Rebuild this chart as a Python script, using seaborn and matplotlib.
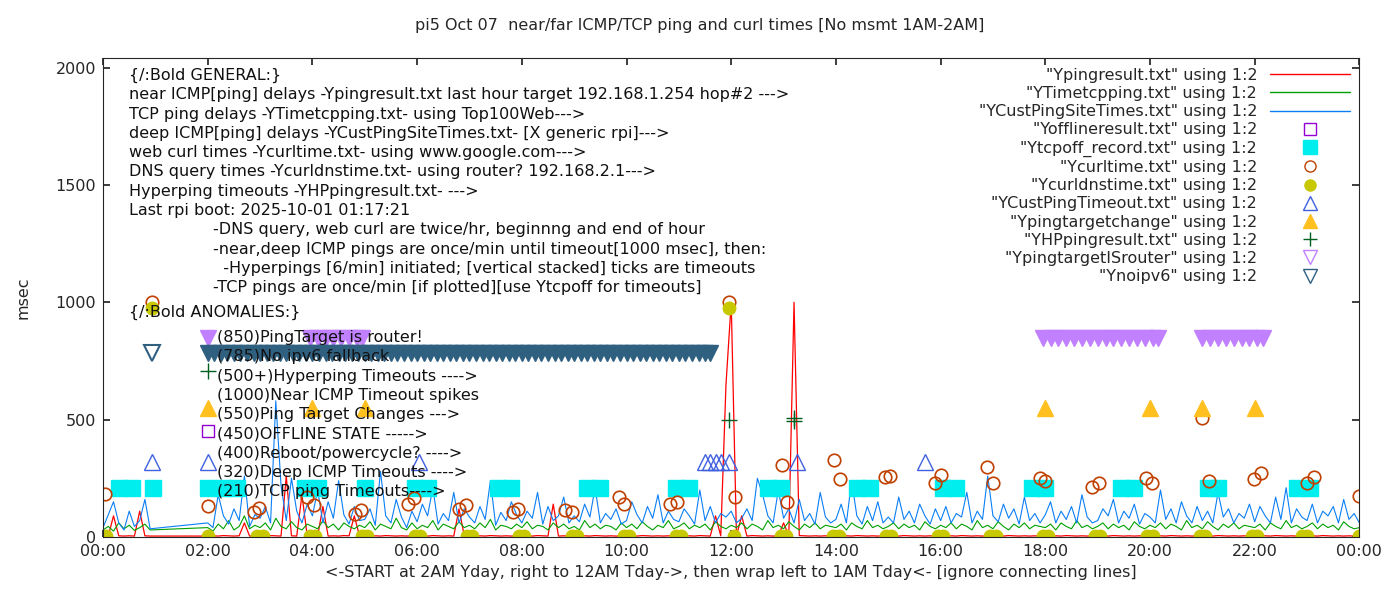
import numpy as np
import pandas as pd
import matplotlib
matplotlib.use("Agg")
import matplotlib.pyplot as plt
import matplotlib.lines as mlines
import seaborn as sns

sns.set_theme(style="ticks")
plt.rcParams["font.family"] = ["DejaVu Sans"]

# ---- time grid (hours since midnight); no data 1AM-2AM ----
HOURS = np.round(np.concatenate([np.arange(0.0, 1.0, 0.1), np.arange(2.0, 24.05, 0.1)]), 2)

# far ICMP (YCustPingSiteTimes) - blue
BLUE = [
    40, 95, 150, 60, 30, 110, 45, 70, 160, 35,
    60, 40, 180, 90, 55, 120, 70, 260, 45, 95,
    80, 130, 60, 580, 220, 70, 250, 110, 60, 140,
    90, 200, 60, 150, 80, 240, 95, 55, 130, 70,
    75, 120, 50, 280, 90, 60, 160, 85, 40, 110,
    65, 140, 90, 210, 55, 100, 70, 190, 60, 120,
    85, 60, 130, 75, 240, 50, 105, 70, 150, 95,
    60, 110, 80, 190, 55, 130, 70, 90, 170, 60,
    90, 65, 140, 85, 210, 60, 100, 75, 120, 55,
    70, 150, 95, 60, 130, 80, 180, 60, 110, 75,
    65, 120, 90, 55, 200, 70, 130, 60, 100, 85,
    110, 60, 80, 120, 70, 250, 180, 90, 60, 200,
    80, 120, 60, 160, 70, 100, 55, 190, 85, 60,
    75, 140, 60, 240, 90, 55, 130, 70, 150, 60,
    85, 60, 170, 75, 110, 60, 140, 90, 55, 120,
    70, 130, 60, 100, 85, 190, 60, 110, 75, 260,
    90, 65, 140, 80, 120, 55, 170, 70, 100, 60,
    95, 150, 60, 110, 75, 130, 60, 180, 85, 60,
    70, 120, 90, 160, 60, 110, 80, 140, 55, 100,
    85, 60, 200, 75, 120, 60, 150, 90, 60, 130,
    70, 110, 60, 190, 85, 120, 60, 100, 80, 140,
    65, 130, 90, 60, 170, 75, 210, 60, 120, 85,
    70, 140, 60, 110, 90, 130, 60, 160, 75, 100,
    60,
]

# deep ICMP (YTimetcpping) - green
GREEN = [
    30, 45, 25, 60, 35, 50, 28, 40, 55, 30,
    40, 25, 55, 35, 70, 30, 45, 90, 35, 50,
    40, 60, 30, 80, 45, 35, 65, 40, 30, 55,
    45, 35, 70, 40, 55, 30, 60, 45, 35, 50,
    40, 65, 30, 55, 45, 35, 80, 40, 30, 60,
    35, 50, 40, 70, 30, 55, 45, 35, 65, 40,
    50, 35, 60, 40, 75, 30, 50, 45, 35, 55,
    40, 65, 35, 50, 45, 30, 60, 40, 55, 35,
    45, 30, 70, 40, 55, 35, 50, 45, 30, 60,
    40, 55, 35, 65, 45, 30, 50, 40, 70, 35,
    45, 60, 35, 50, 40, 55, 30, 65, 45, 35,
    50, 40, 60, 35, 55, 45, 30, 70, 40, 50,
    35, 65, 45, 30, 55, 40, 60, 35, 50, 45,
    40, 55, 30, 60, 45, 35, 70, 40, 50, 35,
    45, 60, 35, 55, 40, 50, 30, 65, 45, 35,
    50, 40, 60, 35, 55, 45, 30, 70, 40, 50,
    35, 65, 45, 30, 55, 40, 60, 35, 50, 45,
    40, 55, 30, 60, 45, 35, 70, 40, 50, 35,
    45, 60, 35, 55, 40, 50, 30, 65, 45, 35,
    50, 40, 60, 35, 55, 45, 30, 70, 40, 50,
    35, 65, 45, 30, 55, 40, 60, 35, 50, 45,
    40, 55, 30, 60, 45, 35, 70, 40, 50, 35,
    45, 60, 35, 55, 40, 50, 30, 65, 45, 35,
    40,
]

# near ICMP (Ypingresult) - red
RED = [
    5, 4, 90, 5, 4, 5, 4, 110, 5, 4,
    4, 5, 4, 6, 5, 4, 5, 60, 4, 5,
    5, 4, 6, 5, 4, 260, 5, 4, 180, 5,
    4, 5, 130, 4, 5, 4, 6, 5, 90, 4,
    5, 4, 5, 4, 6, 5, 4, 5, 4, 5,
    4, 5, 4, 6, 5, 4, 5, 4, 120, 5,
    5, 4, 5, 4, 6, 5, 4, 5, 4, 5,
    4, 5, 4, 6, 5, 4, 140, 4, 5, 4,
    5, 4, 5, 4, 6, 5, 4, 5, 4, 5,
    4, 5, 4, 6, 5, 4, 5, 4, 5, 4,
    5, 4, 5, 4, 6, 5, 4, 90, 5, 650,
    1000, 5, 90, 4, 6, 5, 4, 5, 4, 5,
    60, 5, 1000, 6, 5, 4, 5, 4, 5, 4,
    5, 4, 5, 4, 6, 5, 4, 5, 4, 5,
    4, 5, 4, 6, 5, 4, 5, 4, 5, 4,
    5, 4, 5, 4, 6, 5, 4, 5, 4, 5,
    4, 5, 4, 6, 5, 4, 5, 4, 5, 4,
    5, 4, 5, 4, 6, 5, 4, 5, 4, 5,
    4, 5, 4, 6, 5, 4, 5, 4, 5, 4,
    5, 4, 5, 4, 6, 5, 4, 5, 4, 5,
    4, 5, 4, 6, 5, 4, 5, 4, 5, 4,
    5, 4, 5, 4, 6, 5, 4, 5, 4, 5,
    4, 5, 4, 6, 5, 4, 5, 4, 5, 4,
    4,
]

# TCP ping timeouts (Ytcpoff_record) at ~210
TCPOFF_X = [0.3, 0.55, 0.95, 2.0, 2.3, 2.55, 3.85, 4.1, 5.0, 5.95, 6.2, 7.55, 7.8, 9.25, 9.5,
            10.95, 11.2, 12.7, 12.95, 14.4, 14.65, 16.05, 16.3, 17.75, 18.0, 19.45, 19.7,
            21.1, 21.3, 22.8, 23.05]
TCPOFF_Y = 210

# web curl times (Ycurltime)
CURL_X = [0.03, 0.93, 2.0, 2.88, 2.98, 3.9, 4.03, 4.82, 4.93, 5.83, 5.94, 6.8, 6.93, 7.83, 7.93,
          8.82, 8.95, 9.85, 9.96, 10.84, 10.97, 11.95, 12.07, 12.97, 13.07, 13.97, 14.08,
          14.93, 15.04, 15.9, 16.0, 16.89, 17.0, 17.9, 18.0, 18.9, 19.02, 19.93, 20.04,
          20.99, 21.13, 21.99, 22.12, 23.0, 23.13, 24.0]
CURL_Y = [185, 1000, 130, 105, 123, 170, 136, 100, 117, 140, 166, 120, 136, 108, 120,
          115, 108, 170, 140, 140, 150, 1000, 170, 305, 150, 330, 245,
          255, 262, 230, 265, 300, 232, 250, 237, 215, 232, 250, 232,
          505, 237, 245, 272, 230, 255, 175]

# DNS query times (Ycurldnstime)
DNS_X = [0.05, 0.93, 2.0, 2.95, 3.05, 3.95, 4.05, 4.95, 5.05, 5.95, 6.05, 6.95, 7.05, 7.95, 8.05,
         8.95, 9.05, 9.95, 10.05, 10.95, 11.05, 11.95, 12.05, 12.95, 13.05, 13.95, 14.05,
         14.95, 15.05, 15.95, 16.05, 16.95, 17.05, 17.95, 18.05, 18.95, 19.05, 19.95, 20.05,
         20.95, 21.05, 21.95, 22.05, 22.9, 23.0, 24.0]
DNS_Y = [5, 975, 3, 3, 4, 3, 4, 3, 4, 3, 4, 3, 4, 3, 4,
         3, 4, 3, 4, 3, 4, 975, 4, 3, 4, 3, 4,
         3, 4, 3, 4, 3, 4, 3, 4, 3, 4, 3, 4,
         3, 4, 3, 4, 3, 4, 5]

# deep ICMP timeouts (YCustPingTimeout) at 320
CPTO_X = [0.93, 2.0, 6.03, 11.5, 11.6, 11.7, 11.8, 11.95, 13.25, 15.7]
CPTO_Y = 320

# ping target changes at 550
PTC_X = [2.0, 4.0, 5.0, 18.0, 20.0, 21.0, 22.0]
PTC_Y = 550

# offline state marker
OFFLINE_X = [2.0]
OFFLINE_Y = 450

# hyperping timeouts
HYP_X = [2.0, 11.95, 13.2, 13.2]
HYP_Y = [706, 500, 495, 505]

# ping target is router at 850
ROUTER_X = [2.0, 3.95, 4.1, 4.25, 4.4, 4.55, 4.7, 4.85, 4.95,
            17.95, 18.1, 18.25, 18.4, 18.55, 18.7, 18.85, 19.0, 19.15, 19.3, 19.45, 19.6,
            19.75, 19.9, 20.05, 20.15,
            21.0, 21.15, 21.3, 21.45, 21.6, 21.75, 21.9, 22.05, 22.15]
ROUTER_Y = 850

# no ipv6 at 785
NOIPV6_X = [0.93, 2.0, 2.125, 2.25, 2.375, 2.5, 2.625, 2.75, 2.875, 3.0, 3.125, 3.25, 3.375,
            3.5, 3.625, 3.75, 3.875, 4.0, 4.125, 4.25, 4.375, 4.5, 4.625, 4.75, 4.875, 5.0,
            5.125, 5.25, 5.375, 5.5, 5.625, 5.75, 5.875, 6.0, 6.125, 6.25, 6.375, 6.5, 6.625,
            6.75, 6.875, 7.0, 7.125, 7.25, 7.375, 7.5, 7.625, 7.75, 7.875, 8.0, 8.125, 8.25,
            8.375, 8.5, 8.625, 8.75, 8.875, 9.0, 9.125, 9.25, 9.375, 9.5, 9.625, 9.75, 9.875,
            10.0, 10.125, 10.25, 10.375, 10.5, 10.625, 10.75, 10.875, 11.0, 11.125, 11.25,
            11.375, 11.5, 11.6]
NOIPV6_Y = 785

GENERAL = [
    "{/:Bold GENERAL:}",
    "near ICMP[ping] delays -Ypingresult.txt last hour target 192.168.1.254 hop#2 --->",
    "TCP ping delays -YTimetcpping.txt- using Top100Web--->",
    "deep ICMP[ping] delays -YCustPingSiteTimes.txt- [X generic rpi]--->",
    "web curl times -Ycurltime.txt- using www.google.com--->",
    "DNS query times -Ycurldnstime.txt- using router? 192.168.2.1--->",
    "Hyperping timeouts -YHPpingresult.txt- --->",
    "Last rpi boot: 2025-10-01 01:17:21",
]
NOTES = [
    "-DNS query, web curl are twice/hr, beginnng and end of hour",
    "-near,deep ICMP pings are once/min until timeout[1000 msec], then:",
    "  -Hyperpings [6/min] initiated; [vertical stacked] ticks are timeouts",
    "-TCP pings are once/min [if plotted][use Ytcpoff for timeouts]",
]
ANOMALIES = [
    "(850)PingTarget is router!",
    "(785)No ipv6 fallback",
    "(500+)Hyperping Timeouts ---->",
    "(1000)Near ICMP Timeout spikes",
    "(550)Ping Target Changes --->",
    "(450)OFFLINE STATE ----->",
    "(400)Reboot/powercycle? ---->",
    "(320)Deep ICMP Timeouts ---->",
    "(210)TCP ping Timeouts---->",
]

df = pd.DataFrame({"h": HOURS, "red": RED, "green": GREEN, "blue": BLUE})

fig = plt.figure(figsize=(14, 6), dpi=100)
ax = fig.add_axes([0.0736, 0.105, 0.8974, 0.798])

fs = 11.5
lh = 19.3 / 0.235  # one text line in data units
def block(x, y0, lines):
    for i, t in enumerate(lines):
        ax.text(x, y0 - i * lh, t, fontsize=fs, va="center", ha="left", color="#111111")

block(0.5, 1966, GENERAL)
block(2.1, 1966 - 8 * lh, NOTES)
block(0.5, 1966 - 12 * lh - 25, ["{/:Bold ANOMALIES:}"])
block(2.18, 850, ANOMALIES)

sns.lineplot(data=df, x="h", y="red", ax=ax, color="#ff0000", lw=0.9, sort=False, estimator=None)
sns.lineplot(data=df, x="h", y="green", ax=ax, color="#00a000", lw=0.8, sort=False, estimator=None)
sns.lineplot(data=df, x="h", y="blue", ax=ax, color="#0a7ff5", lw=0.8, sort=False, estimator=None)

ax.plot(OFFLINE_X, [OFFLINE_Y] * len(OFFLINE_X), "s", ms=9, mfc="none", mec="#9400d3", mew=1.0, ls="none")
ax.plot(TCPOFF_X, [TCPOFF_Y] * len(TCPOFF_X), "s", ms=11, color="#00eeee", ls="none")
ax.plot(CURL_X, CURL_Y, "o", ms=9, mfc="none", mec="#c04000", mew=1.2, ls="none")
ax.plot(DNS_X, DNS_Y, "o", ms=9, color="#c8c800", ls="none")
ax.plot(CPTO_X, [CPTO_Y] * len(CPTO_X), "^", ms=11, mfc="none", mec="#4060e0", mew=1.0, ls="none")
ax.plot(PTC_X, [PTC_Y] * len(PTC_X), "^", ms=11, color="#ffc020", ls="none")
ax.plot(HYP_X, HYP_Y, "+", ms=11, color="#006020", mew=1.0, ls="none")
ax.plot(ROUTER_X, [ROUTER_Y] * len(ROUTER_X), "v", ms=12, color="#c080ff", ls="none")
ax.plot(NOIPV6_X[1:], [NOIPV6_Y] * (len(NOIPV6_X) - 1), "v", ms=12, color="#306080", ls="none")
ax.plot(NOIPV6_X[:1], [NOIPV6_Y], "v", ms=12, mfc="none", mec="#306080", mew=1.5, ls="none")

ax.set_xlim(0, 24)
ax.set_ylim(0, 2040)
ax.set_xticks(range(0, 25, 2))
ax.set_xticklabels(["%02d:00" % (h % 24) for h in range(0, 25, 2)], fontsize=fs)
ax.set_yticks([0, 500, 1000, 1500, 2000])
ax.set_yticklabels(["0", "500", "1000", "1500", "2000"], fontsize=fs)
ax.tick_params(direction="in", top=True, right=True, length=5, pad=5)
for s in ax.spines.values():
    s.set_linewidth(0.8)
ax.set_xlabel("<-START at 2AM Yday, right to 12AM Tday->, then wrap left to 1AM Tday<- [ignore connecting lines]",
              fontsize=fs, labelpad=4)
ax.set_ylabel("msec", fontsize=fs, labelpad=18)
fig.suptitle("pi5 Oct 07  near/far ICMP/TCP ping and curl times [No msmt 1AM-2AM]", fontsize=fs, y=0.97)

handles = [
    mlines.Line2D([], [], color="#ff0000", lw=1),
    mlines.Line2D([], [], color="#00a000", lw=1),
    mlines.Line2D([], [], color="#0a7ff5", lw=1),
    mlines.Line2D([], [], marker="s", ms=9, mfc="none", mec="#9400d3", ls="none"),
    mlines.Line2D([], [], marker="s", ms=10, color="#00eeee", ls="none"),
    mlines.Line2D([], [], marker="o", ms=8, mfc="none", mec="#c04000", ls="none"),
    mlines.Line2D([], [], marker="o", ms=8, color="#c8c800", ls="none"),
    mlines.Line2D([], [], marker="^", ms=10, mfc="none", mec="#4060e0", ls="none"),
    mlines.Line2D([], [], marker="^", ms=10, color="#ffc020", ls="none"),
    mlines.Line2D([], [], marker="+", ms=10, color="#006020", ls="none"),
    mlines.Line2D([], [], marker="v", ms=10, mfc="none", mec="#c080ff", ls="none"),
    mlines.Line2D([], [], marker="v", ms=10, mfc="none", mec="#306080", ls="none"),
]
labels = ['"%s" using 1:2' % n for n in [
    "Ypingresult.txt", "YTimetcpping.txt", "YCustPingSiteTimes.txt", "Yofflineresult.txt",
    "Ytcpoff_record.txt", "Ycurltime.txt", "Ycurldnstime.txt", "YCustPingTimeout.txt",
    "Ypingtargetchange", "YHPpingresult.txt", "YpingtargetISrouter", "Ynoipv6"]]
ax.legend(handles, labels, loc="upper right", frameon=False, markerfirst=False, fontsize=fs,
          handlelength=5.0, labelspacing=0.2, borderaxespad=0.2, handletextpad=0.8,
          bbox_to_anchor=(1.0, 1.0))

fig.savefig("out.png", dpi=100)
